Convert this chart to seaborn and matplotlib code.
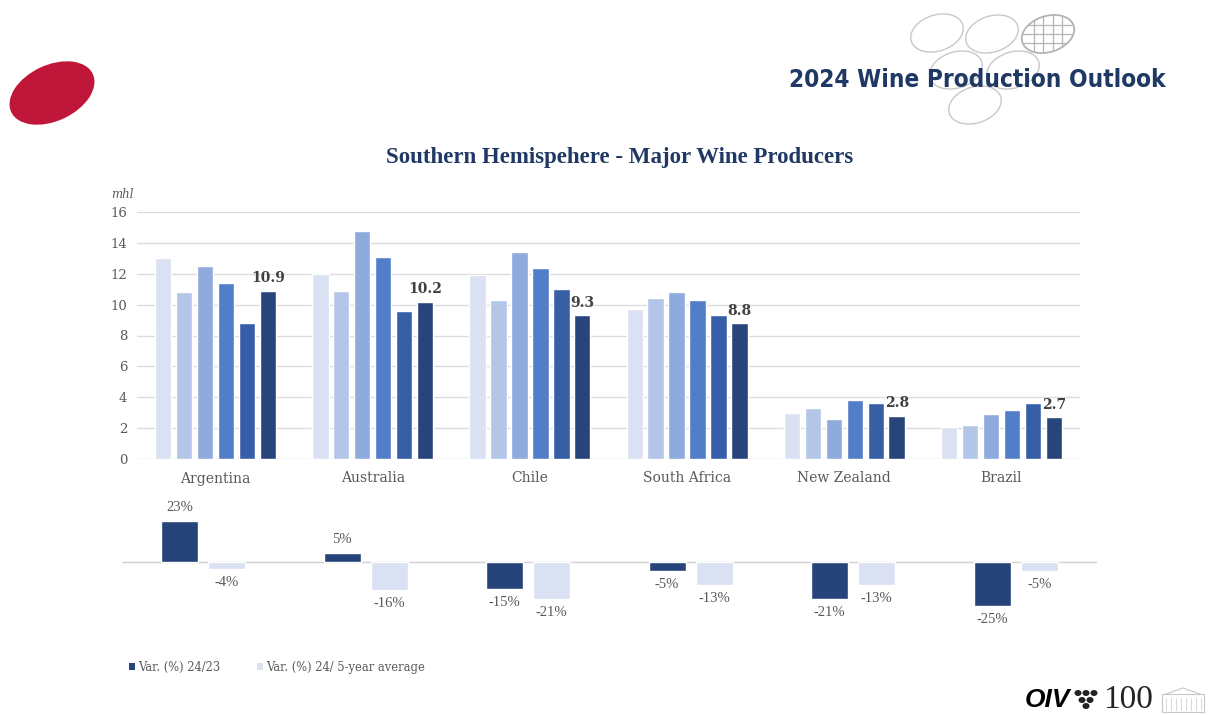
import numpy as np
import pandas as pd
import matplotlib
matplotlib.use("Agg")
import matplotlib.pyplot as plt
from matplotlib import font_manager
from matplotlib.patches import Ellipse, Rectangle
import seaborn as sns

# Datos (mhl)
paises = ["Argentina", "Australia", "Chile", "South Africa", "New Zealand", "Brazil"]
anios = ["2019", "2020", "2021", "2022", "2023", "2024"]
prod_2019 = [13.0, 12.0, 11.9, 9.7, 3.0, 2.1]
prod_2020 = [10.8, 10.9, 10.3, 10.4, 3.3, 2.2]
prod_2021 = [12.5, 14.8, 13.4, 10.8, 2.6, 2.9]
prod_2022 = [11.4, 13.1, 12.4, 10.3, 3.8, 3.2]
prod_2023 = [8.8, 9.6, 11.0, 9.3, 3.6, 3.6]
prod_2024 = [10.9, 10.2, 9.3, 8.8, 2.8, 2.7]

# Variaciones (%)
series_var = ["Var. (%) 24/23", "Var. (%) 24/ 5-year average"]
var_24_23 = [23, 5, -15, -5, -21, -25]
var_24_5y = [-4, -16, -21, -13, -13, -5]

colores_anios = ["#dae1f3", "#b4c6e7", "#8faadc", "#517dc9", "#375fa8", "#27457b"]
colores_var = ["#26447a", "#dae1f3"]
navy = "#1f3864"
gris = "#595959"

sns.set_theme(style="white")
plt.rcParams["font.family"] = ["DejaVu Serif"]

# buscar una fuente estrecha y negrita para el encabezado
fuente_header, stretch_header, tam_header = ["DejaVu Sans"], "normal", 15.5
for f in font_manager.fontManager.ttflist:
    st = f.stretch if isinstance(f.stretch, str) else ""
    if ("condensed" in st or "Condensed" in f.name or "Narrow" in f.name) and \
            (f.weight in ("bold", 700) or f.weight == 700):
        fuente_header, stretch_header, tam_header = [f.name, "DejaVu Sans"], f.stretch, 17.5
        break

prod = [prod_2019, prod_2020, prod_2021, prod_2022, prod_2023, prod_2024]
df = pd.DataFrame({
    "pais": np.tile(paises, len(anios)),
    "anio": np.repeat(anios, len(paises)),
    "valor": np.concatenate(prod),
})
df_var = pd.DataFrame({
    "pais": np.tile(paises, 2),
    "serie": np.repeat(series_var, len(paises)),
    "valor": var_24_23 + var_24_5y,
})

fig = plt.figure(figsize=(12.09, 7.15), dpi=100)

# capa decorativa en pixeles
deco = fig.add_axes([0, 0, 1, 1])
deco.set_xlim(0, 1209)
deco.set_ylim(715, 0)
deco.axis("off")
deco.add_patch(Ellipse((52, 93), 90, 56, angle=-25, color="#c0163a", lw=0))
for cx, cy in [(937, 33), (992, 34), (956, 70), (1013, 70), (975, 105)]:
    deco.add_patch(Ellipse((cx, cy), 54, 36, angle=-18, fill=False, ec="#c8c8c8", lw=1))
globo = Ellipse((1048, 34), 54, 36, angle=-18, fill=False, ec="#b4b4b4", lw=1.3)
deco.add_patch(globo)
for dx in (-14, -5, 5, 14):
    ln, = deco.plot([1048 + dx, 1048 + dx], [12, 56], color="#b4b4b4", lw=0.9)
    ln.set_clip_path(globo)
for dy in (-9, 0, 9):
    ln, = deco.plot([1018, 1078], [34 + dy, 34 + dy], color="#b4b4b4", lw=0.9)
    ln.set_clip_path(globo)
deco.text(1166, 80, "2024 Wine Production Outlook", ha="right", va="center",
          fontsize=tam_header, fontweight="bold", fontstretch=stretch_header,
          color=navy, family=fuente_header)
deco.text(620, 158, "Southern Hemispehere - Major Wine Producers", ha="center",
          va="center", fontsize=16.5, fontweight="bold", color=navy,
          family=["Liberation Serif", "DejaVu Serif"])
deco.text(1070, 700, "OIV", ha="right", va="center", fontsize=19,
          fontweight="bold", fontstyle="italic", color="black",
          family=["Liberation Sans", "DejaVu Sans"])
deco.text(1128, 700, "100", ha="center", va="center", fontsize=24,
          color="#222222", family=["Liberation Serif", "DejaVu Serif"])
for gx, gy in [(1078, 693), (1086, 693), (1094, 693), (1082, 700), (1090, 700), (1086, 706)]:
    deco.add_patch(Ellipse((gx, gy), 7, 6, color="#222222", lw=0))
# edificio del logo (boceto)
deco.add_patch(Rectangle((1162, 694), 42, 18, fill=False, ec="#c8c8c8", lw=0.8))
deco.plot([1166, 1183, 1200], [694, 688, 694], color="#c8c8c8", lw=0.8)
for bx in range(1166, 1204, 5):
    deco.plot([bx, bx], [698, 710], color="#d0d0d0", lw=0.6)

# leyenda inferior
deco.add_patch(Rectangle((129, 663), 6, 7, color=colores_var[0], lw=0))
deco.text(138, 667, series_var[0], va="center", fontsize=8.3, color=gris)
deco.add_patch(Rectangle((257, 663), 6, 7, color=colores_var[1], lw=0))
deco.text(266, 667, series_var[1], va="center", fontsize=8.3, color=gris)

# grafico superior
ax = fig.add_axes([137 / 1209, 1 - 459 / 715, 943 / 1209, 247 / 715])
sns.barplot(data=df, x="pais", y="valor", hue="anio", palette=colores_anios,
            width=0.8, gap=0.22, saturation=1, legend=False, ax=ax)
ax.set_ylim(0, 16)
ax.set_yticks(range(0, 17, 2))
ax.set_xlim(-0.5, len(paises) - 0.5)
ax.grid(axis="y", color="#dcdcdc", lw=1)
ax.set_axisbelow(True)
for s in ax.spines.values():
    s.set_visible(False)
ax.set_xlabel("")
ax.set_ylabel("")
ax.tick_params(axis="y", length=0, labelsize=9.5, labelcolor=gris, pad=7)
ax.tick_params(axis="x", length=0, labelsize=10, labelcolor=gris, pad=9)
ax.bar_label(ax.containers[-1], labels=[f"{v:.1f}" for v in prod_2024],
             padding=4, fontsize=10, fontweight="bold", color="#404040")
ax.text(-0.027, 1.07, "mhl", transform=ax.transAxes, ha="left", va="center",
        fontsize=8.5, fontstyle="italic", color=gris)

# grafico inferior de variaciones
ax2 = fig.add_axes([122 / 1209, 1 - 625 / 715, 975 / 1209, 125 / 715])
sns.barplot(data=df_var, x="pais", y="valor", hue="serie", palette=colores_var,
            width=0.58, gap=0.21, saturation=1, legend=False, ax=ax2)
ax2.set_ylim(-35.4, 34.8)
ax2.set_xlim(-0.5, len(paises) - 0.5)
ax2.axhline(0, color="#d0d0d0", lw=1, zorder=0)
ax2.axis("off")
for cont, vals in zip(ax2.containers, [var_24_23, var_24_5y]):
    ax2.bar_label(cont, labels=[f"{v}%" for v in vals], padding=5, fontsize=10.5,
                  color=gris, family=["Liberation Serif", "DejaVu Serif"])

fig.savefig("out.png", dpi=100)
